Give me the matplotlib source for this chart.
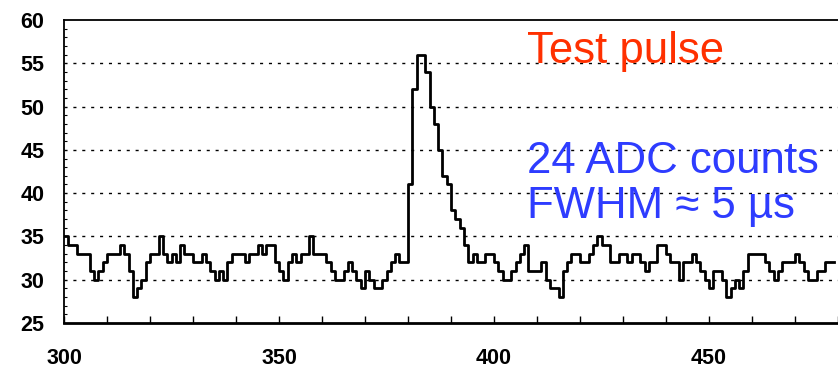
import matplotlib
matplotlib.use("Agg")
import matplotlib.pyplot as plt
import numpy as np

# sample position (one per time bin) and ADC counts
t_start = 300
adc = [35, 34, 34, 33, 33, 33, 31, 30, 31, 32,
       33, 33, 33, 34, 33, 31, 28, 29, 30, 32,
       33, 33, 35, 33, 32, 33, 32, 34, 33, 33,
       32, 32, 33, 32, 31, 30, 31, 30, 32, 33,
       33, 33, 32, 33, 33, 34, 33, 34, 34, 32,
       31, 30, 32, 33, 32, 33, 33, 35, 33, 33,
       33, 32, 31, 30, 30, 31, 32, 31, 30, 29,
       31, 30, 29, 29, 30, 31, 32, 33, 32, 32,
       41, 52, 56, 56, 54, 50, 48, 45, 42, 41,
       38, 37, 36, 34, 32, 33, 32, 32, 33, 33,
       32, 31, 30, 30, 31, 32, 33, 34, 31, 31,
       31, 32, 30, 29, 29, 28, 31, 32, 33, 33,
       32, 32, 33, 34, 35, 34, 34, 32, 32, 33,
       33, 32, 33, 33, 32, 31, 32, 32, 34, 34,
       33, 32, 32, 30, 32, 32, 33, 32, 31, 30,
       29, 31, 31, 30, 28, 29, 30, 29, 31, 33,
       33, 33, 33, 32, 31, 30, 31, 32, 32, 32,
       33, 32, 31, 30, 30, 31, 31, 32, 32, 32]
t = np.arange(t_start, t_start + len(adc))

y_ticks = [25, 30, 35, 40, 45, 50, 55, 60]
x_ticks = [300, 350, 400, 450]
grid_levels = [30, 35, 40, 45, 50, 55]

label_red = "Test pulse"
label_blue = "24 ADC counts\nFWHM \u2248 5 \u00b5s"

plt.rcParams['font.family'] = ['Liberation Sans', 'DejaVu Sans']

fig = plt.figure(figsize=(8.38, 3.71), dpi=100)
ax = fig.add_axes([64 / 838, 1 - 323 / 371, 1 - 64 / 838, (323 - 20) / 371])

for g in grid_levels:
    ax.axhline(g, color='black', lw=1.0, ls=(0, (2.2, 4.2)), zorder=1)

ax.step(t, adc, where='post', color='black', lw=2.0, zorder=3)

ax.set_xlim(300, 480)
ax.set_ylim(25, 60)
ax.set_xticks(x_ticks)
ax.set_xticks(np.arange(300, 481, 10), minor=True)
ax.set_yticks(y_ticks)
ax.set_yticks(np.arange(25, 61, 1), minor=True)

ax.tick_params(axis='x', which='major', direction='in', length=5, width=1,
               labelsize=15.5, pad=18)
ax.tick_params(axis='x', which='minor', direction='in', length=5, width=1)
ax.tick_params(axis='y', which='major', direction='in', length=0,
               labelsize=15.5, pad=14)
ax.tick_params(axis='y', which='minor', direction='in', length=2.5, width=0.8)
for lab in ax.get_xticklabels() + ax.get_yticklabels():
    lab.set_fontweight('bold')

ax.spines['right'].set_visible(False)
ax.spines['left'].set_linewidth(1.3)
ax.spines['top'].set_linewidth(1.3)
ax.spines['bottom'].set_linewidth(2.0)

fig.text(527 / 838, 1 - 51 / 371, label_red, color='#ff3000', fontsize=31.5,
         ha='left', va='center')
fig.text(527 / 838, 1 - 184 / 371, label_blue, color='#2e3cff', fontsize=31.5,
         ha='left', va='center', linespacing=1.13)

fig.savefig('out.png', dpi=100)
